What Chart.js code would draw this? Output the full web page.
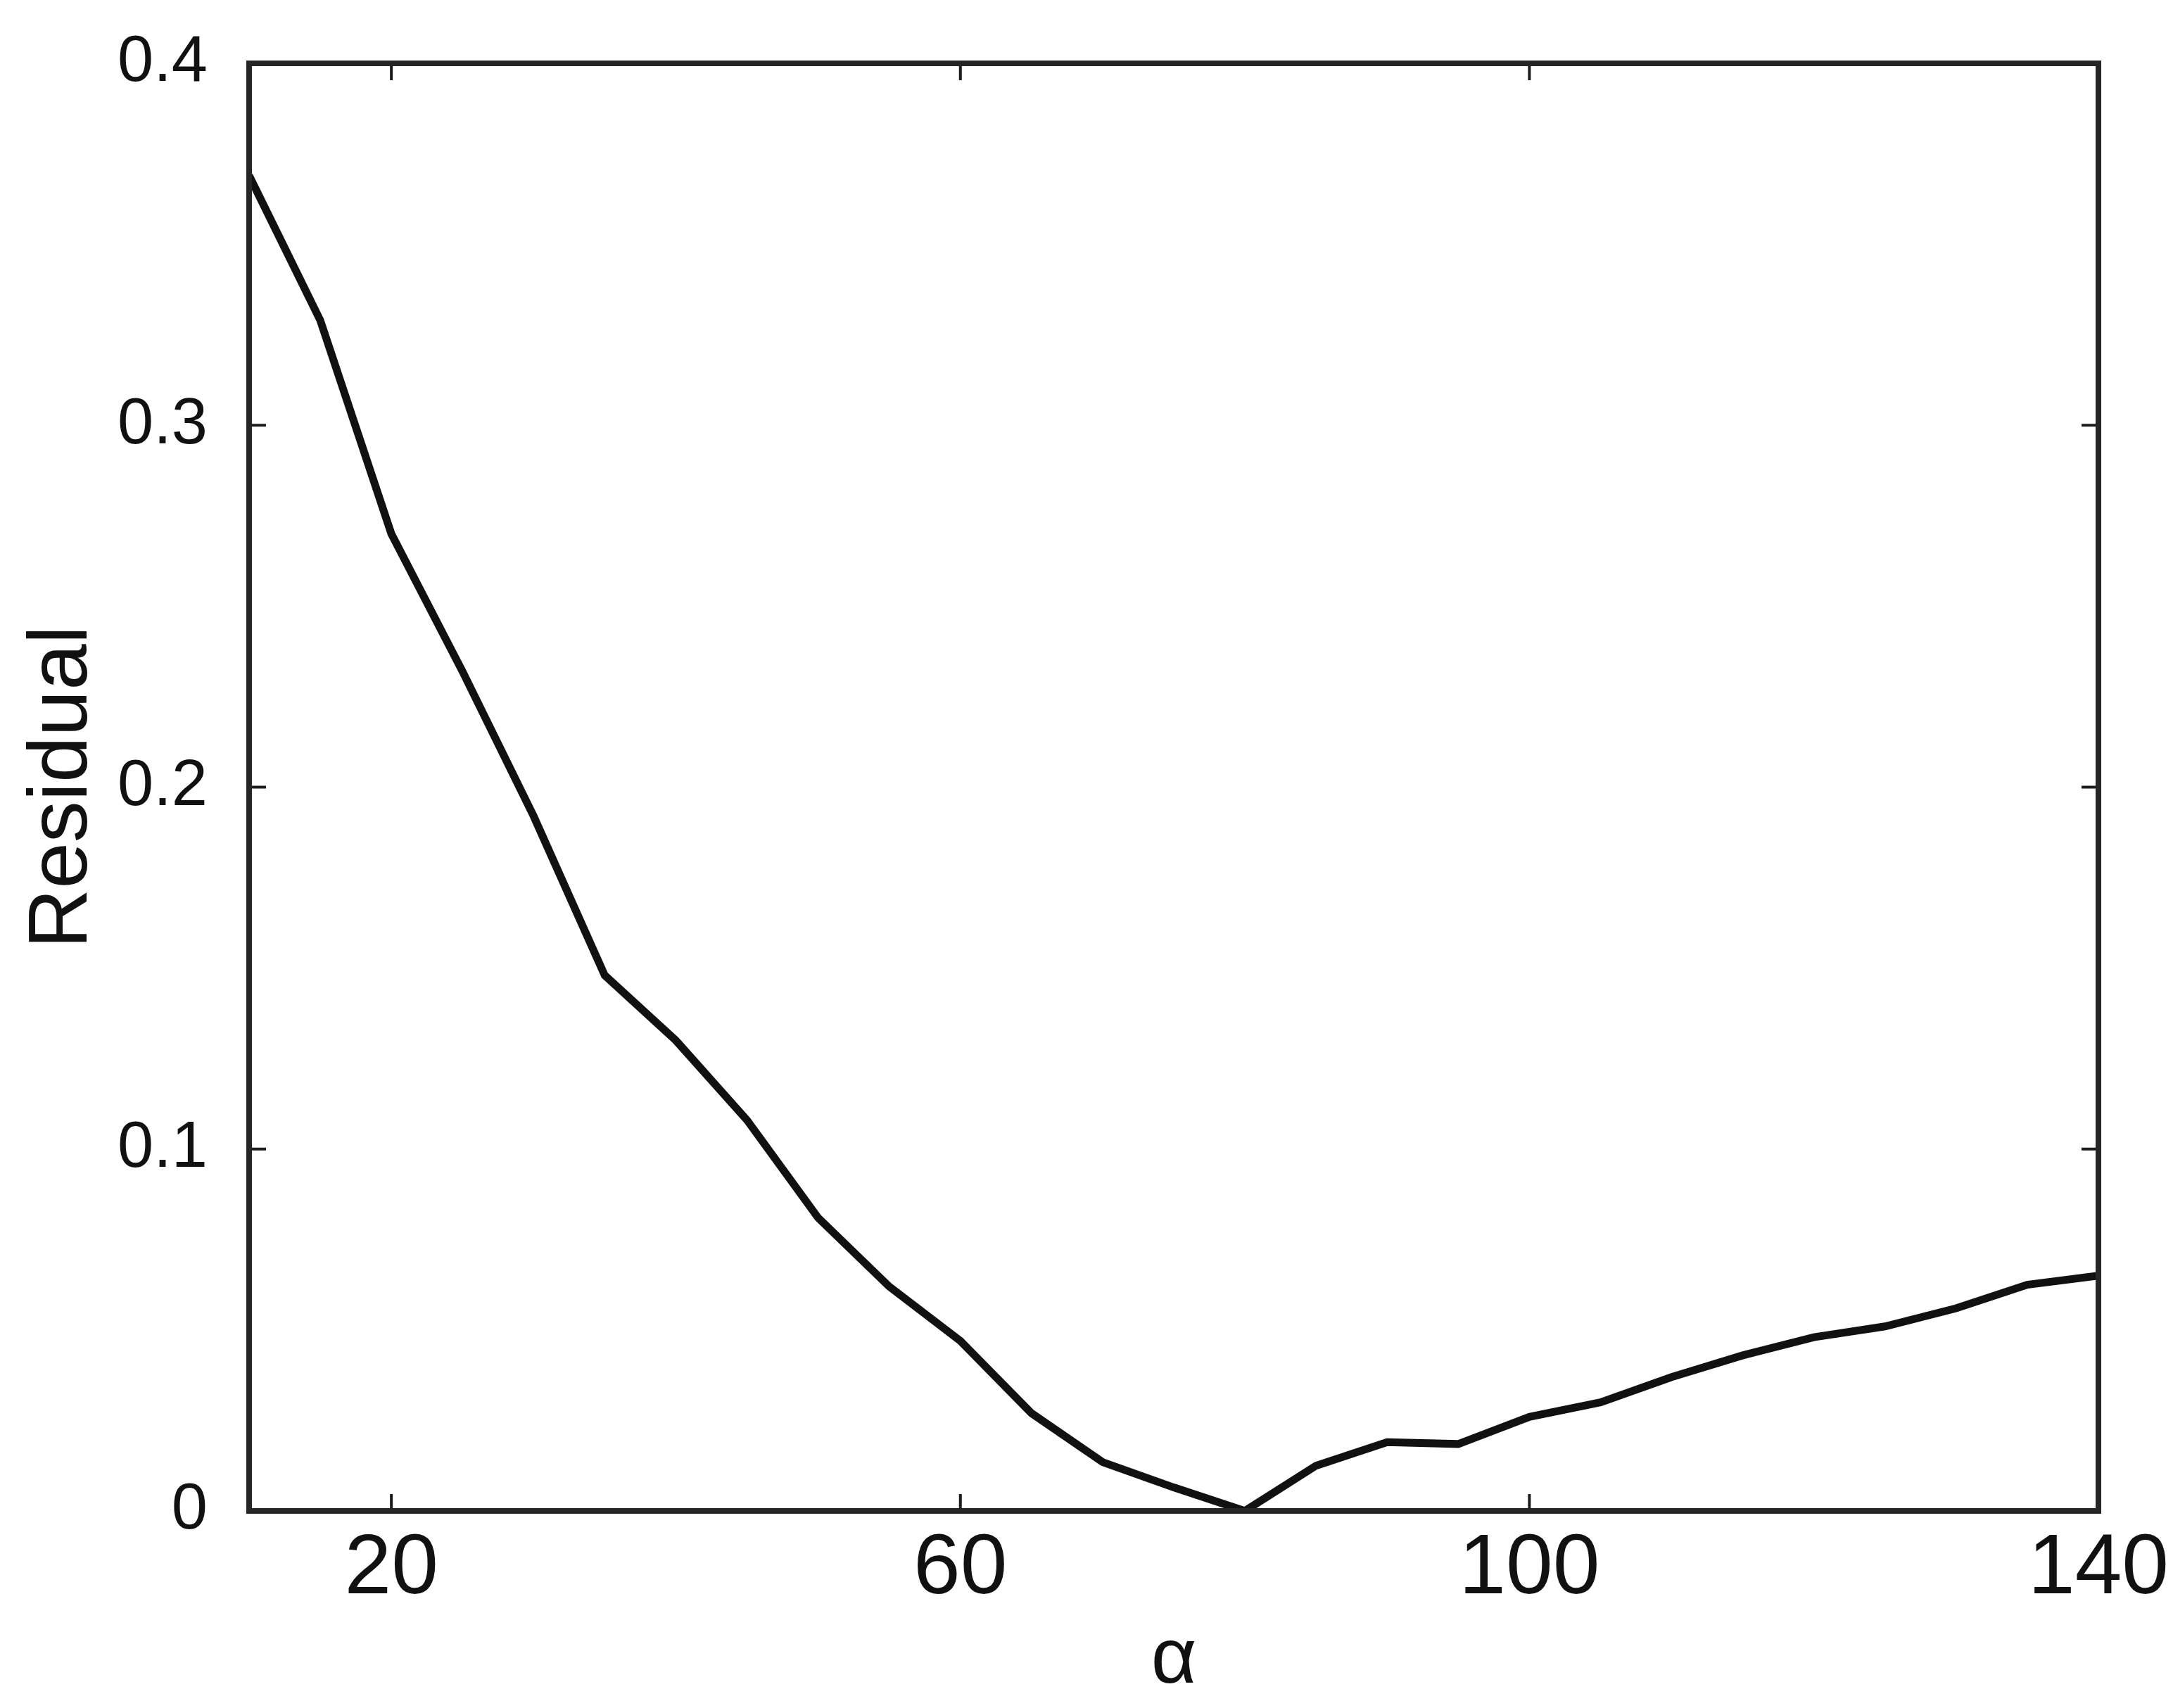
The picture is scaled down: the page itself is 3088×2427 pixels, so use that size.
<!DOCTYPE html>
<html><head><meta charset="utf-8">
<script src="https://cdn.jsdelivr.net/npm/chart.js@4.4.1/dist/chart.umd.min.js"></script>
<style>html,body{margin:0;padding:0;background:#fff;}canvas{display:block;}</style>
</head><body>
<canvas id="c" width="3088" height="2427"></canvas>
<script>
const alphaValues    = [10, 15, 20, 25, 30, 35, 40, 45, 50, 55, 60, 65, 70, 75, 80, 85, 90, 95, 100, 105, 110, 115, 120, 125, 130, 135, 140];
const residualValues = [0.369, 0.329, 0.270, 0.232, 0.192, 0.148, 0.130, 0.108, 0.081, 0.062, 0.047, 0.027, 0.0135, 0.0065, 0.0, 0.0125, 0.019, 0.0185, 0.026, 0.030, 0.037, 0.043, 0.048, 0.051, 0.056, 0.0625, 0.065];
const xTickValues = [20, 60, 100, 140];
const yTickValues = [0, 0.1, 0.2, 0.3, 0.4];
const xTitle = 'α';
const yTitle = 'Residual';

const points = alphaValues.map((a, i) => ({x: a, y: residualValues[i]}));

const framePlugin = {
  id: 'frame',
  afterDatasetsDraw(chart) {
    const {ctx, chartArea: a, scales: {x, y}} = chart;
    ctx.save();
    ctx.strokeStyle = '#1c1c1c';
    ctx.lineWidth = 4;
    const tl = 24;
    ctx.beginPath();
    xTickValues.forEach(v => {
      const px = x.getPixelForValue(v);
      ctx.moveTo(px, a.bottom); ctx.lineTo(px, a.bottom - tl);
      ctx.moveTo(px, a.top); ctx.lineTo(px, a.top + tl);
    });
    yTickValues.forEach(v => {
      const py = y.getPixelForValue(v);
      ctx.moveTo(a.left, py); ctx.lineTo(a.left + tl, py);
      ctx.moveTo(a.right, py); ctx.lineTo(a.right - tl, py);
    });
    ctx.stroke();
    ctx.lineWidth = 8;
    ctx.strokeStyle = '#262626';
    ctx.strokeRect(a.left, a.top, a.right - a.left, a.bottom - a.top);
    ctx.restore();
  }
};

new Chart(document.getElementById('c'), {
  type: 'line',
  data: {
    datasets: [{
      data: points,
      borderColor: '#111',
      borderWidth: 11,
      pointRadius: 0,
      tension: 0,
      fill: false
    }]
  },
  options: {
    responsive: false,
    animation: false,
    devicePixelRatio: 1,
    layout: {padding: {top: 90, right: 106, left: 0, bottom: 0}},
    plugins: {legend: {display: false}, tooltip: {enabled: false}},
    scales: {
      x: {
        type: 'linear',
        min: 10, max: 140,
        afterBuildTicks: s => { s.ticks = xTickValues.map(v => ({value: v})); },
        afterFit: s => { s.height = 280; s.paddingLeft = 0; s.paddingRight = 0; },
        grid: {display: false},
        border: {display: false},
        ticks: {
          autoSkip: false, maxRotation: 0,
          padding: 4,
          color: '#111',
          font: {family: "'Liberation Sans', Arial, sans-serif", size: 120}
        },
        title: {
          display: true, text: xTitle, color: '#111',
          font: {family: "'Liberation Sans', sans-serif", size: 112},
          padding: 0
        }
      },
      y: {
        type: 'linear',
        min: 0, max: 0.4,
        afterBuildTicks: s => { s.ticks = yTickValues.map(v => ({value: v})); },
        afterFit: s => { s.width = 354; s.paddingTop = 0; s.paddingBottom = 0; },
        grid: {display: false},
        border: {display: false},
        ticks: {
          padding: 51,
          color: '#111',
          font: {family: "'Liberation Sans', Arial, sans-serif", size: 92}
        },
        title: {
          display: true, text: yTitle, color: '#111',
          font: {family: "'Liberation Sans', Arial, sans-serif", size: 118},
          padding: {top: 20, bottom: 0}
        }
      }
    }
  },
  plugins: [framePlugin]
});
</script>
</body></html>
